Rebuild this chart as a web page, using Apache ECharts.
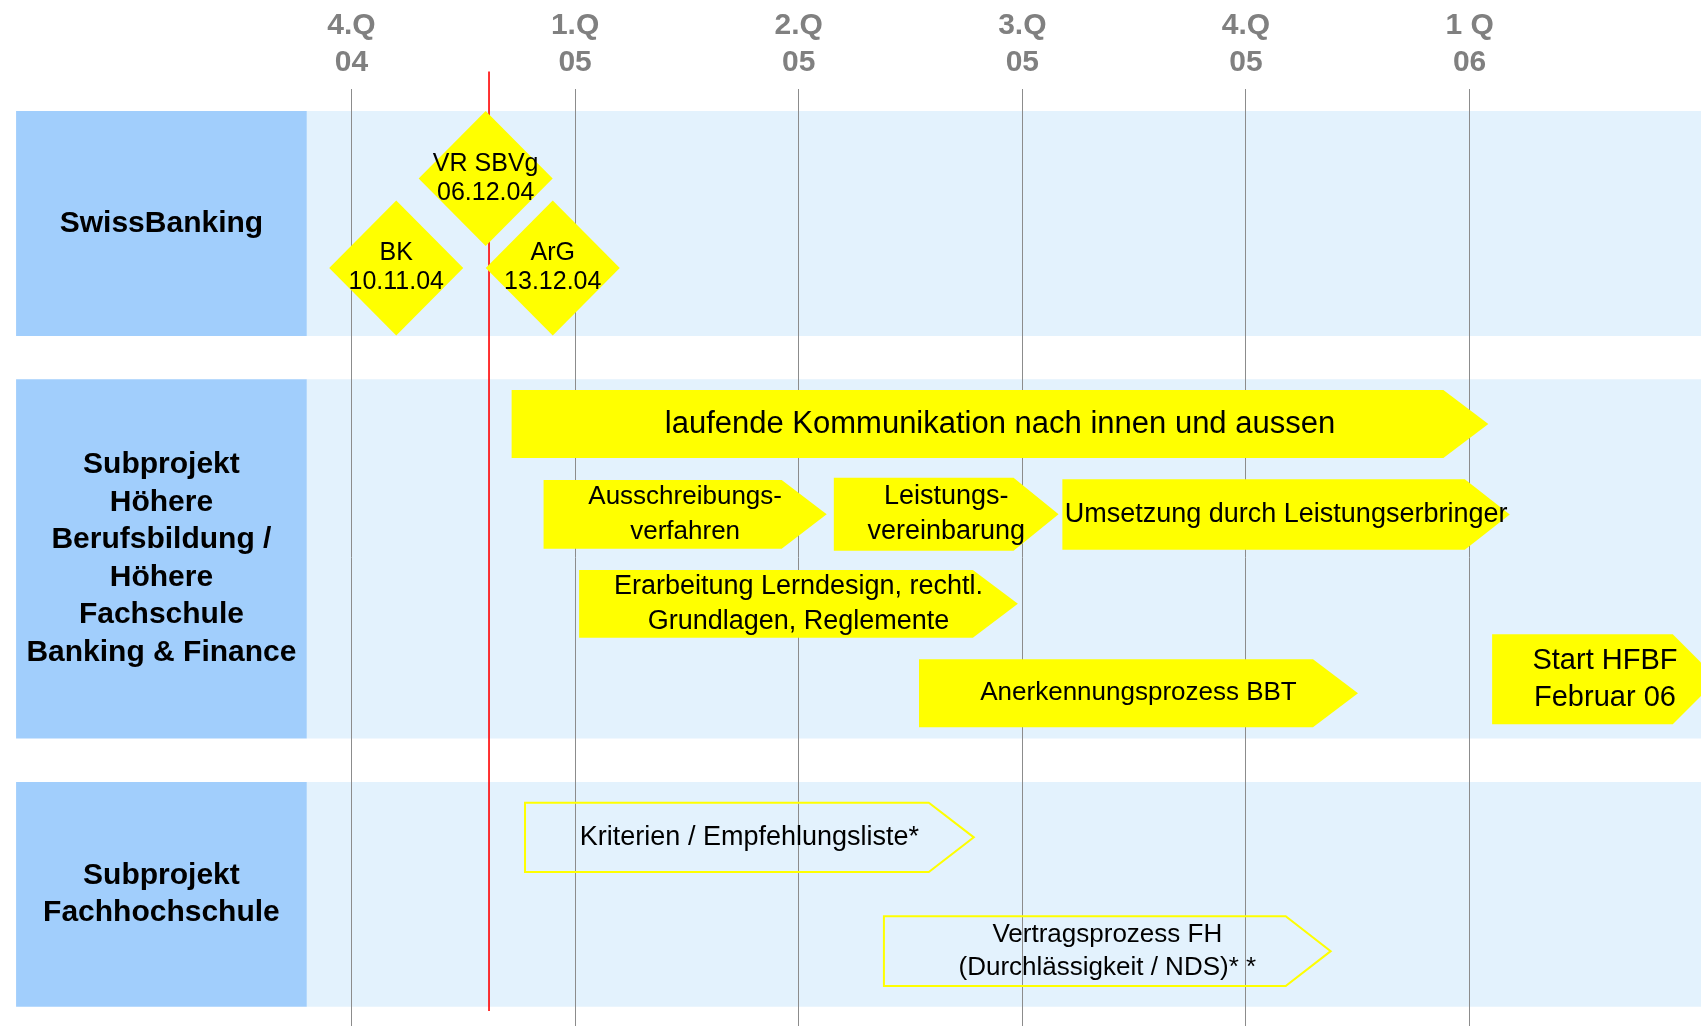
<!DOCTYPE html>
<html>
<head>
<meta charset="utf-8">
<title>Projektplan HFBF</title>
<script src="https://cdn.jsdelivr.net/npm/echarts@6/dist/echarts.min.js"></script>
<style>
  html, body { margin: 0; padding: 0; background: #fff; }
  #chart { width: 1701px; height: 1026px; }
</style>
</head>
<body>
<div id="chart"></div>
<script>
/*
 * Timeline (quarters 4.Q 04 .. 1 Q 06) with three lanes.
 * x axis: quarters, 0 = start of 4.Q 04
 * y axis: vertical slot position inside the plan (inverse, top = 0)
 */

/* ---- data ---- */
let quarterTicks = [0, 1, 2, 3, 4, 5];
let quarterLabels = ["4.Q\n04", "1.Q\n05", "2.Q\n05", "3.Q\n05", "4.Q\n05", "1 Q\n06"];

let laneNames = [
  "SwissBanking",
  "Subprojekt\nHöhere\nBerufsbildung /\nHöhere\nFachschule\nBanking & Finance",
  "Subprojekt\nFachhochschule",
];
let laneTop = [22, 290.3, 693];
let laneBottom = [247, 649.5, 917.7];

let milestoneLabels = ["VR SBVg\n06.12.04", "BK\n10.11.04", "ArG\n13.12.04"];
let milestoneX = [0.6, 0.2, 0.9];
let milestoneY = [89.5, 179, 179];

let todayX = 0.615;
let todayFrom = -17.4;
let todayTo = 922;

let taskLabels = [
  "laufende Kommunikation nach innen und aussen",
  "Ausschreibungs-\nverfahren",
  "Leistungs-\nvereinbarung",
  "Umsetzung durch Leistungserbringer",
  "Erarbeitung Lerndesign, rechtl.\nGrundlagen, Reglemente",
  "Anerkennungsprozess BBT",
  "Start HFBF\nFebruar 06",
  "Kriterien / Empfehlungsliste*",
  "Vertragsprozess FH\n(Durchlässigkeit / NDS)* *",
];
let taskStart = [0.716, 0.859, 2.157, 3.179, 1.018, 2.538, 5.101, 0.776, 2.381];
let taskEnd = [5.084, 2.125, 3.162, 5.18, 2.98, 4.501, 6.11, 2.783, 4.379];
let taskTop = [301, 391, 388.7, 390.3, 481, 570.3, 545.3, 713.7, 827.3];
let taskBottom = [369, 459.7, 461.7, 460.7, 548.7, 638.3, 635.3, 783, 897];
let taskOutline = [false, false, false, false, false, false, false, true, true];

/* ---- styles ---- */
let FONT = "'Liberation Sans', Arial, Helvetica, sans-serif";
let YELLOW = "#ffff00";
let BAND = "#e3f2fd";
let LABEL_BOX = "#a1cefc";
let GRID_GRAY = "#8c8c8c";
let HEAD = 45; /* arrow head length, px */
let LABEL_FROM = -1.5; /* lane label column, in quarters */
let LABEL_TO = -0.2;
let BAND_TO = 6.2;
let Y_MIN = 0;
let Y_MAX = 937;
let taskFont = [31, 26, 27, 27, 27, 26, 29, 27, 26];
let taskLine = [36, 35, 35, 35, 35, 34, 37, 34, 33];

function renderLane(params, api) {
  let i = params.dataIndex;
  let top = api.value(0);
  let bottom = api.value(1);
  let a = api.coord([LABEL_FROM, top]);
  let b = api.coord([LABEL_TO, bottom]);
  let c = api.coord([BAND_TO, bottom]);
  return {
    type: "group",
    children: [
      {
        type: "rect",
        shape: { x: b[0], y: a[1], width: c[0] - b[0], height: b[1] - a[1] },
        style: { fill: BAND },
      },
      {
        type: "rect",
        shape: { x: a[0], y: a[1], width: b[0] - a[0], height: b[1] - a[1] },
        style: { fill: LABEL_BOX },
      },
      {
        type: "text",
        x: (a[0] + b[0]) / 2,
        y: (a[1] + b[1]) / 2,
        style: {
          text: laneNames[i],
          fill: "#000",
          fontFamily: FONT,
          fontWeight: "bold",
          fontSize: 30,
          lineHeight: 37.5,
          align: "center",
          verticalAlign: "middle",
        },
      },
    ],
  };
}

function renderGridLine(params, api) {
  let p0 = api.coord([api.value(0), Y_MIN]);
  let p1 = api.coord([api.value(0), Y_MAX]);
  let x = Math.round(p0[0] - 0.5) + 0.5;
  return {
    type: "line",
    shape: { x1: x, y1: p0[1], x2: x, y2: p1[1] },
    style: { stroke: GRID_GRAY, lineWidth: 1 },
  };
}

function renderToday(params, api) {
  let p0 = api.coord([api.value(0), api.value(1)]);
  let p1 = api.coord([api.value(0), api.value(2)]);
  return {
    type: "line",
    shape: { x1: p0[0], y1: p0[1], x2: p1[0], y2: p1[1] },
    style: { stroke: "#ff0000", lineWidth: 1.6 },
  };
}

function renderTask(params, api) {
  let i = params.dataIndex;
  let p0 = api.coord([api.value(0), api.value(2)]);
  let p1 = api.coord([api.value(1), api.value(3)]);
  let x0 = p0[0], y0 = p0[1], x1 = p1[0], y1 = p1[1];
  let ym = (y0 + y1) / 2;
  let xs = x1 - HEAD;
  let shapeStyle = taskOutline[i]
    ? { fill: "none", stroke: YELLOW, lineWidth: 2 }
    : { fill: YELLOW };
  return {
    type: "group",
    children: [
      {
        type: "polygon",
        shape: { points: [[x0, y0], [xs, y0], [x1, ym], [xs, y1], [x0, y1]] },
        style: shapeStyle,
      },
      {
        type: "text",
        x: (x0 + x1) / 2,
        y: ym,
        style: {
          text: taskLabels[i],
          fill: "#000",
          fontFamily: FONT,
          fontSize: taskFont[i],
          lineHeight: taskLine[i],
          align: "center",
          verticalAlign: "middle",
        },
      },
    ],
  };
}

let chart = echarts.init(document.getElementById("chart"), null, { renderer: "canvas" });

chart.setOption({
  backgroundColor: "#fff",
  animation: false,
  grid: { left: 351.5, right: 0, top: 89, bottom: 0, outerBoundsMode: "none" },
  xAxis: {
    type: "value",
    position: "top",
    min: 0,
    max: 6.035,
    interval: 1,
    axisLine: { show: false },
    axisTick: { show: false },
    splitLine: { show: false },
    axisLabel: {
      margin: 8,
      color: "#808080",
      fontFamily: FONT,
      fontWeight: "bold",
      fontSize: 30,
      lineHeight: 37,
      formatter: function (v) {
        let k = quarterTicks.indexOf(v);
        return k >= 0 ? quarterLabels[k] : "";
      },
    },
  },
  yAxis: {
    type: "value",
    inverse: true,
    min: Y_MIN,
    max: Y_MAX,
    show: false,
  },
  series: [
    {
      type: "custom",
      name: "lanes",
      z: 1,
      silent: true,
      renderItem: renderLane,
      encode: { y: [0, 1] },
      data: laneTop.map(function (t, i) { return [t, laneBottom[i]]; }),
    },
    {
      type: "custom",
      name: "quarters",
      z: 2,
      silent: true,
      renderItem: renderGridLine,
      encode: { x: 0 },
      data: quarterTicks.map(function (q) { return [q]; }),
    },
    {
      type: "custom",
      name: "today",
      z: 3,
      silent: true,
      renderItem: renderToday,
      encode: { x: 0, y: [1, 2] },
      data: [[todayX, todayFrom, todayTo]],
    },
    {
      type: "custom",
      name: "tasks",
      z: 4,
      silent: true,
      renderItem: renderTask,
      encode: { x: [0, 1], y: [2, 3] },
      data: taskLabels.map(function (l, i) {
        return [taskStart[i], taskEnd[i], taskTop[i], taskBottom[i]];
      }),
    },
    {
      type: "scatter",
      name: "milestones",
      z: 5,
      silent: true,
      symbol: "diamond",
      symbolSize: [134, 135],
      itemStyle: { color: YELLOW, opacity: 1 },
      label: {
        show: true,
        position: "inside",
        color: "#000",
        fontFamily: FONT,
        fontSize: 25,
        lineHeight: 29,
        formatter: function (p) { return milestoneLabels[p.dataIndex]; },
      },
      data: milestoneX.map(function (x, i) { return [x, milestoneY[i]]; }),
    },
  ],
});
</script>
</body>
</html>
